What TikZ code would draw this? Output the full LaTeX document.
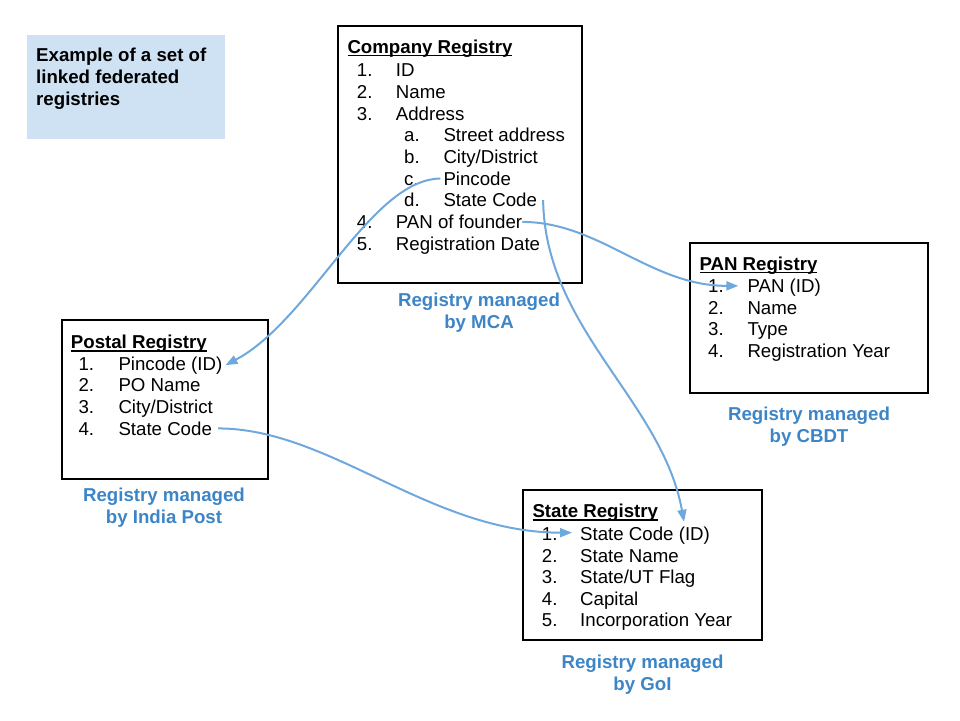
\documentclass[tikz,border=0pt]{standalone}
\usepackage{fontspec}
\setmainfont{Liberation Sans}
\usetikzlibrary{arrows.meta}
\definecolor{notefill}{HTML}{CFE2F3}
\definecolor{mgrblue}{HTML}{3D85C6}
\definecolor{linkblue}{HTML}{6FA8DC}
\newcommand\regsize{\fontsize{18.67}{22}\selectfont}
\newcommand\regul[1]{\setbox0\hbox{#1}\rlap{\vrule height -1.8pt depth 3.3pt width \wd0}\box0}
\tikzset{
  item/.style={anchor=base west, inner sep=0pt, font=\regsize},
  hdr/.style={item, font=\regsize\bfseries},
  mgr/.style={anchor=north, inner sep=0pt, align=center, text=mgrblue, font=\regsize\bfseries},
  regbox/.style={draw=black, line width=1.3pt},
  link/.style={draw=linkblue, line width=2pt, -{Triangle[length=12pt,width=9pt]}},
}

\begin{document}
\begin{tikzpicture}[x=1pt,y=-1pt]
            \useasboundingbox (0,0) rectangle (960,720);

            % note
            \fill[notefill] (27,35) rectangle (225,139);
            \node[hdr, anchor=north west, align=left] (note) at (36,48) {Example of a set of\\linked federated\\registries};

            % company registry
            \draw[regbox] (338,26) rectangle (582,283);
            \node[hdr] (co-hdr) at (347.3,53) {\regul{Company Registry}};
            \foreach \n/\r/\t in {1/0/ID, 2/1/Name, 3/2/Address, 4/7/PAN of founder, 5/8/Registration Date} {
                \node[item] (co-n\n) at (356.7,76.7+21.7*\r) {\n.};
                \node[item] (co-\n) at (395.7,76.7+21.7*\r) {\t};
            }
            \foreach \n/\r/\t in {a/3/Street address, b/4/{City/District}, c/5/Pincode, d/6/State Code} {
                \node[item] (co-n\n) at (404,76.7+21.7*\r) {\n.};
                \node[item] (co-\n) at (443.3,76.7+21.7*\r) {\t};
            }
            \node[mgr] (co-mgr) at (479,292.5) {Registry managed\\by MCA};

            % pan registry
            \draw[regbox] (690,243) rectangle (928,393);
            \node[hdr] (pan-hdr) at (699.3,270) {\regul{PAN Registry}};
            \foreach \t [count=\i] in {PAN (ID), Name, Type, Registration Year} {
                \node[item] (pan-n\i) at (708,271.1+21.6*\i) {\i.};
                \node[item] (pan-\i) at (747.3,271.1+21.6*\i) {\t};
            }
            \node[mgr] (pan-mgr) at (809,406.5) {Registry managed\\by CBDT};

            % postal registry
            \draw[regbox] (62,320) rectangle (268,479);
            \node[hdr] (post-hdr) at (70.7,348.3) {\regul{Postal Registry}};
            \foreach \t [count=\i] in {Pincode (ID), PO Name, {City/District}, State Code} {
                \node[item] (post-n\i) at (78.3,348.3+21.7*\i) {\i.};
                \node[item] (post-\i) at (118.3,348.3+21.7*\i) {\t};
            }
            \node[mgr] (post-mgr) at (164,488.2) {Registry managed\\by India Post};

            % state registry
            \draw[regbox] (523,490) rectangle (762,640);
            \node[hdr] (st-hdr) at (532.3,517.3) {\regul{State Registry}};
            \foreach \t [count=\i] in {State Code (ID), State Name, {State/UT Flag}, Capital, Incorporation Year} {
                \node[item] (st-n\i) at (541.7,518.9+21.6*\i) {\i.};
                \node[item] (st-\i) at (580,518.9+21.6*\i) {\t};
            }
            \node[mgr] (st-mgr) at (642.5,654.5) {Registry managed\\by GoI};

            % links
            \draw[link] ([xshift=-3pt]co-c.west) .. controls +(-70,1) and +(85,-45) .. ([xshift=3pt]post-1.east);
            \draw[link] ([xshift=6pt]co-d.east) .. controls +(2,129) and +(-22,-121) .. ([xshift=39pt,yshift=5pt]st-1.north);
            \draw[link] (co-4.east) .. controls +(77,0) and +(-88,0) .. ([xshift=-9pt,yshift=2pt]pan-1.west);
            \draw[link] ([xshift=6pt]post-4.east) .. controls +(112,0) and +(-142,0) .. ([xshift=-8pt,yshift=3pt]st-1.west);
\end{tikzpicture}
\end{document}
